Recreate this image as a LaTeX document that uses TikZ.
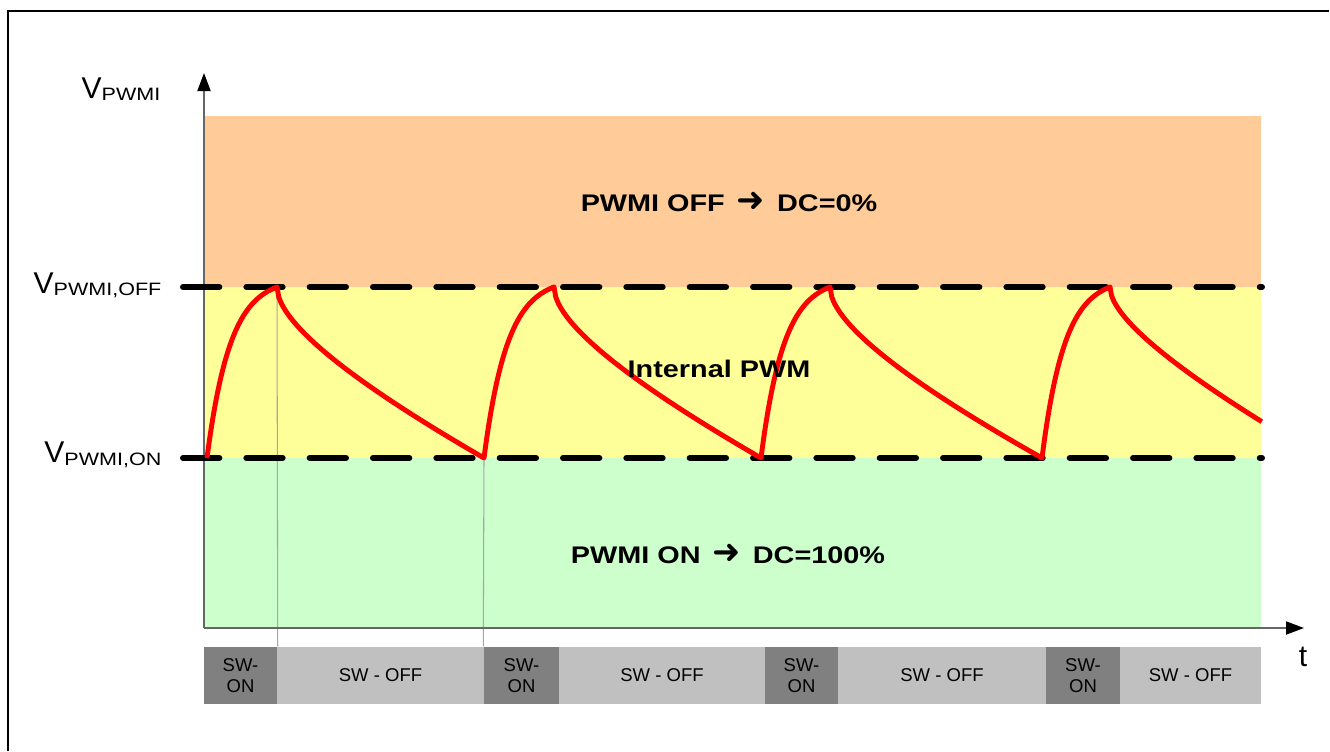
\documentclass[tikz,border=0pt]{standalone}
\usepackage{fontspec}
\setmainfont{Liberation Sans}
\newfontfamily\widefont[FakeStretch=1.2]{Liberation Sans}
\newfontfamily\arrowfont{DejaVu Sans}
\usepackage{tikz}
\usetikzlibrary{arrows.meta}
\newcommand{\subtxt}[2]{\raisebox{-#2}{\widefont\fontsize{5.1}{6}\selectfont #1}}
\newcommand{\bigarrow}{{\arrowfont\fontsize{9.6}{10}\selectfont ➜}}

\definecolor{zoneoff}{HTML}{FFCC99}
\definecolor{zonepwm}{HTML}{FFFF99}
\definecolor{zoneon}{HTML}{CCFFCC}
\definecolor{swdark}{HTML}{808080}
\definecolor{swlight}{HTML}{C0C0C0}

\begin{document}
\begin{tikzpicture}[x=0.01cm, y=-0.01cm,
    axis/.style={draw=black!60, line width=0.55pt, -{Triangle[length=0.18cm, width=0.13cm, color=black]}},
    limit/.style={line width=0.06cm, dash pattern=on 0.363cm off 0.27cm, line cap=round},
    wave/.style={draw=red, line width=1.4pt, line join=round},
    marker/.style={draw=black!35, line width=0.3pt},
    swon/.style={fill=swdark, minimum height=0.57cm, inner sep=0pt, align=center, font=\fontsize{5.26}{5.97}\selectfont},
    swoff/.style={fill=swlight, minimum height=0.57cm, inner sep=0pt, font=\fontsize{5.26}{5.97}\selectfont},
    vlabel/.style={anchor=base east, inner sep=0pt, font=\fontsize{8.54}{10}\selectfont},
    zone/.style={anchor=base, inner sep=0pt, font=\widefont\bfseries\fontsize{6.83}{8}\selectfont}]
            \useasboundingbox (0,0) rectangle (1330,751);
            \draw[line width=0.4pt] (8,751) -- (8,11) -- (1329,11);
            %
            \fill[zoneoff] (204,116) rectangle (1261,287);
            \fill[zonepwm] (204,287) rectangle (1261,458);
            \fill[zoneon] (204,458) rectangle (1261,628);
            %
            \coordinate (org) at (204,628);
            \coordinate (ytop) at (204,73);
            \coordinate (xend) at (1304,628);
            \coordinate (pk1) at (277,287);
            \coordinate (bt1) at (484,458);
            \coordinate (offa) at (183,287);
            \coordinate (offb) at (1262,287);
            \coordinate (ona) at (183,458);
            \coordinate (onb) at (1262,458);
            %
            \node[swon, minimum width=0.73cm] (on1) at (240.5,675.5) {SW-\\ON};
            \node[swoff, minimum width=2.07cm] (off1) at (380.5,675.5) {SW - OFF};
            \node[swon, minimum width=0.75cm] (on2) at (521.5,675.5) {SW-\\ON};
            \node[swoff, minimum width=2.06cm] (off2) at (662,675.5) {SW - OFF};
            \node[swon, minimum width=0.73cm] (on3) at (801.5,675.5) {SW-\\ON};
            \node[swoff, minimum width=2.08cm] (off3) at (942,675.5) {SW - OFF};
            \node[swon, minimum width=0.74cm] (on4) at (1083,675.5) {SW-\\ON};
            \node[swoff, minimum width=1.41cm] (off4) at (1190.5,675.5) {SW - OFF};
            %
            \draw[marker] (pk1) -- (on1.north east);
            \draw[marker] (bt1) -- (on2.north west);
            %
            \draw[axis] (org) -- (ytop);
            \draw[axis] (org) -- (xend);
            %
            \draw[limit] (offa) -- (offb);
            \draw[limit] (ona) -- (onb);
            %
            \draw[wave] plot[domain=0:1, samples=60] ({207+70*\x}, {458-171*(1-exp(-3*\x))/0.9502})
                -- plot[domain=0:1, samples=120] ({277+207*\x}, {287+171*(0.6*sqrt(\x)+0.4*\x)})
                -- plot[domain=0:1, samples=60] ({484+70*\x}, {458-171*(1-exp(-3*\x))/0.9502})
                -- plot[domain=0:1, samples=120] ({554+207*\x}, {287+171*(0.6*sqrt(\x)+0.4*\x)})
                -- plot[domain=0:1, samples=60] ({761+69*\x}, {458-171*(1-exp(-3*\x))/0.9502})
                -- plot[domain=0:1, samples=120] ({830+212*\x}, {287+171*(0.6*sqrt(\x)+0.4*\x)})
                -- plot[domain=0:1, samples=60] ({1042+68*\x}, {458-171*(1-exp(-3*\x))/0.9502})
                -- plot[domain=0:0.717, samples=100] ({1110+212*\x}, {287+171*(0.55*sqrt(\x)+0.45*\x)});
            %
            \node[vlabel] (vlbl) at (161,98) {V\subtxt{PWMI}{0.6pt}};
            \node[vlabel] (voff) at (162,293) {V\subtxt{PWMI,OFF}{0.6pt}};
            \node[vlabel] (von) at (162,462) {V\subtxt{PWMI,ON}{1.1pt}};
            \node[anchor=base, inner sep=0pt, font=\fontsize{8.54}{10}\selectfont] (tlbl) at (1303,666) {t};
            %
            \node[zone] (zoff) at (729,211) {PWMI OFF\, \bigarrow\, DC=0\%};
            \node[zone] (zpwm) at (719,377) {Internal PWM};
            \node[zone] (zon) at (728,563) {PWMI ON\, \bigarrow\, DC=100\%};
        \end{tikzpicture}
\end{document}
